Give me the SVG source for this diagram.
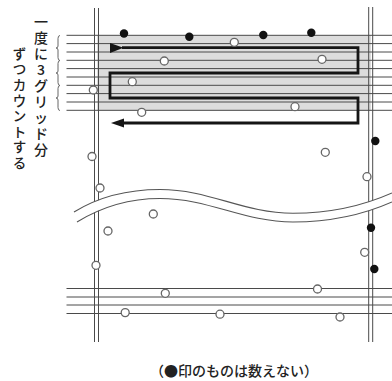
<svg xmlns="http://www.w3.org/2000/svg" width="392" height="381" viewBox="0 0 392 381">
<style>
.hl{stroke:#4a4a4a;stroke-width:1;fill:none}
.vl{stroke:#4a4a4a;stroke-width:1;fill:none}
.wave{stroke:#555;stroke-width:1.1;fill:none}
.oc{fill:#fff;stroke:#666;stroke-width:1.3}
.fc{fill:#111}
.jp{font-family:"Noto Sans CJK JP","Noto Sans CJK SC",sans-serif;fill:#222;font-weight:500}
.c1{font-size:14px;text-anchor:middle}
.c2{font-size:13.5px;text-anchor:middle}
.br{stroke:#666;stroke-width:1;fill:none}
</style>
<rect width="392" height="381" fill="#fff"/>
<g id="shading"><rect x="97" y="35" width="274" height="76" fill="#dcdcdc"/></g>
<g id="grid-top">
<line class="hl" x1="66.5" y1="35.3" x2="392" y2="35.3"/>
<line class="hl" x1="66.5" y1="43.6" x2="392" y2="43.6"/>
<line class="hl" x1="66.5" y1="52" x2="392" y2="52"/>
<line class="hl" x1="66.5" y1="60.3" x2="392" y2="60.3"/>
<line class="hl" x1="66.5" y1="68.6" x2="392" y2="68.6"/>
<line class="hl" x1="66.5" y1="77" x2="392" y2="77"/>
<line class="hl" x1="66.5" y1="85.3" x2="392" y2="85.3"/>
<line class="hl" x1="66.5" y1="93.6" x2="392" y2="93.6"/>
<line class="hl" x1="66.5" y1="102" x2="392" y2="102"/>
<line class="hl" x1="66.5" y1="110.3" x2="392" y2="110.3"/>
</g>
<g id="grid-bottom">
<line class="hl" x1="66.5" y1="288.5" x2="392" y2="288.5"/>
<line class="hl" x1="66.5" y1="297" x2="392" y2="297"/>
<line class="hl" x1="66.5" y1="305" x2="392" y2="305"/>
<line class="hl" x1="66.5" y1="313.5" x2="392" y2="313.5"/>
</g>
<g id="verticals">
<line class="vl" x1="94.5" y1="8" x2="94.5" y2="342"/>
<line class="vl" x1="98.5" y1="8" x2="98.5" y2="342"/>
<line class="vl" x1="368.7" y1="7" x2="368.7" y2="342"/>
<line class="vl" x1="372.7" y1="7" x2="372.7" y2="342"/>
</g>
<g id="break">
<path fill="#fff" d="M74,212 C100,196 130,189.5 160,189.5 C210,189.5 243,213.3 293,213.3 C330,213.3 365,205 392,193 L392,202 C365,214 330,222 293,222 C243,222 210,198.5 160,198.5 C130,198.5 103,206 77,222 Z"/>
<path class="wave" d="M74,212 C100,196 130,189.5 160,189.5 C210,189.5 243,213.3 293,213.3 C330,213.3 365,205 392,193"/>
<path class="wave" d="M77,222 C103,206 130,198.5 160,198.5 C210,198.5 243,222 293,222 C330,222 365,214 392,202"/>
</g>
<g id="connectors">
<path d="M122,47.7 H358 V73 H110 V98 H358 V123 H123" fill="none" stroke="#151515" stroke-width="2.8"/>
<polygon points="110,43 110,53 123.5,47.7" fill="#151515"/>
<polygon points="111,123 124,118.5 124,127.5" fill="#151515"/>
</g>
<g id="braces">
<path class="br" d="M60,35.5 Q58,35.5 58,38.5 V46 Q58,48 56,48 Q58,48 58,50 V57.5 Q58,60.5 60,60.5"/>
<path class="br" d="M60,60.5 Q58,60.5 58,63.5 V71 Q58,73 56,73 Q58,73 58,75 V82.5 Q58,85.5 60,85.5"/>
<path class="br" d="M60,85.5 Q58,85.5 58,88.5 V96 Q58,98 56,98 Q58,98 58,100 V107.5 Q58,110.5 60,110.5"/>
</g>
<g id="filled-dots">
<circle class="fc" cx="124" cy="33.5" r="4.2"/>
<circle class="fc" cx="189.3" cy="36.7" r="4.2"/>
<circle class="fc" cx="263.3" cy="35" r="4.2"/>
<circle class="fc" cx="311.3" cy="32.8" r="4.2"/>
<circle class="fc" cx="375.3" cy="141" r="4.2"/>
<circle class="fc" cx="371" cy="227.8" r="4.2"/>
<circle class="fc" cx="374.3" cy="269" r="4.2"/>
</g>
<g id="open-dots">
<circle class="oc" cx="164.3" cy="61" r="4"/>
<circle class="oc" cx="132.3" cy="81.7" r="4"/>
<circle class="oc" cx="93.3" cy="90" r="4"/>
<circle class="oc" cx="141.7" cy="112.3" r="4"/>
<circle class="oc" cx="234.3" cy="42.3" r="4"/>
<circle class="oc" cx="322" cy="59.3" r="4"/>
<circle class="oc" cx="295" cy="106.7" r="4"/>
<circle class="oc" cx="325.3" cy="152.3" r="4"/>
<circle class="oc" cx="367" cy="176.7" r="4"/>
<circle class="oc" cx="92" cy="156.5" r="4"/>
<circle class="oc" cx="100" cy="188" r="4"/>
<circle class="oc" cx="153.3" cy="214" r="4"/>
<circle class="oc" cx="108" cy="231" r="4"/>
<circle class="oc" cx="96" cy="265.3" r="4"/>
<circle class="oc" cx="364.7" cy="252.3" r="4"/>
<circle class="oc" cx="165.3" cy="293.3" r="4"/>
<circle class="oc" cx="125.2" cy="312.6" r="4"/>
<circle class="oc" cx="220" cy="314.2" r="4"/>
<circle class="oc" cx="317.5" cy="289" r="4"/>
<circle class="oc" cx="340" cy="317" r="4"/>
</g>
<g id="label-col1" class="jp">
<text class="c1" x="41" y="27">一</text>
<text class="c1" x="41" y="43">度</text>
<text class="c1" x="41" y="59">に</text>
<text class="c1" x="41" y="75">3</text>
<text class="c1" x="41" y="91">グ</text>
<text class="c1" x="41" y="107">リ</text>
<text class="c1" x="41" y="123">ッ</text>
<text class="c1" x="41" y="139">ド</text>
<text class="c1" x="41" y="155">分</text>
</g>
<g id="label-col2" class="jp">
<text class="c2" x="19.5" y="58.8">ず</text>
<text class="c2" x="19.5" y="74.4">つ</text>
<text class="c2" x="19.5" y="90">カ</text>
<text class="c2" x="19.5" y="105.6">ウ</text>
<text class="c2" x="19.5" y="121.2">ン</text>
<text class="c2" x="19.5" y="136.8">ト</text>
<text class="c2" x="19.5" y="152.4">す</text>
<text class="c2" x="19.5" y="168">る</text>
</g>
<g id="caption" class="jp">
<text x="234" y="375.5" font-size="14" text-anchor="middle">（●印のものは数えない）</text>
</g>
</svg>
